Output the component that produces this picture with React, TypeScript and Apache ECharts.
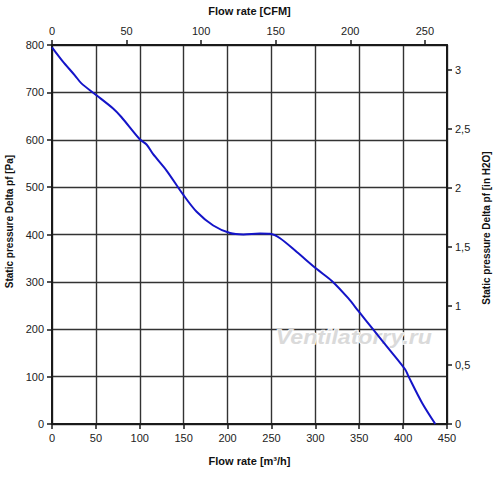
import React, { useEffect, useRef } from "react";
import * as echarts from "echarts";

const flowM3h = [0, 12, 26, 33.5, 50.6, 69.6, 79, 100, 107.7, 115, 130.5, 149.5, 164.8, 183.7, 202.8, 218, 237, 248.4, 259.8, 278.9, 301.7, 318.8, 337.7, 349.2, 366.3, 385.3, 402.4, 406, 421.5, 436.7];
const pressurePa = [795, 766, 736, 719, 694, 666, 648, 601, 590, 570, 535, 484, 448, 419, 403, 400, 402, 401.5, 392, 363, 327, 302, 265, 238, 198.5, 155, 115, 101, 45, 0];

const M3H_PER_CFM = 1.699;
const PA_PER_INH2O = 249.089;
const X_MAX = 450;
const Y_MAX = 800;

const FONT = "'Liberation Sans', Arial, sans-serif";

export default function App() {
  const ref = useRef<HTMLDivElement>(null);
  useEffect(() => {
    if (!ref.current) return;
    const chart = echarts.init(ref.current, undefined, { renderer: "svg" });
    const labelStyle = { fontSize: 11, color: "#222", fontFamily: FONT };
    const nameStyle = { fontSize: 11, color: "#111", fontWeight: "bold" as const, fontFamily: FONT };
    const axisLine = { show: true, onZero: false, lineStyle: { color: "#1a1a1a", width: 2 } };
    const tick = { show: true, length: 5, lineStyle: { color: "#1a1a1a", width: 1.5 } };
    chart.setOption({
      animation: false,
      backgroundColor: "#fff",
      grid: { left: 52, right: 53, top: 45, bottom: 54, containLabel: false, outerBoundsMode: "none" },
      graphic: [
        {
          type: "text",
          left: 275,
          top: 326,
          z: 1,
          scaleX: 1.1,
          silent: true,
          style: {
            text: "Ventilatorry.ru",
            fontSize: 21,
            fontStyle: "italic",
            fontWeight: "bold",
            fontFamily: FONT,
            fill: "#dadada",
            stroke: "#ffffff",
            lineWidth: 1.5,
          },
        },
      ],
      xAxis: [
        {
          type: "value",
          position: "bottom",
          min: 0,
          max: X_MAX,
          interval: 50,
          name: "Flow rate [m³/h]",
          nameLocation: "middle",
          nameGap: 31,
          nameTextStyle: nameStyle,
          axisLine,
          axisTick: tick,
          axisLabel: { ...labelStyle, margin: 8 },
          splitLine: { show: true, lineStyle: { color: "#333", width: 1.4 } },
        },
        {
          type: "value",
          position: "top",
          min: 0,
          max: X_MAX / M3H_PER_CFM,
          interval: 50,
          name: "Flow rate [CFM]",
          nameLocation: "middle",
          nameGap: 29,
          nameTextStyle: nameStyle,
          axisLine,
          axisTick: tick,
          axisLabel: { ...labelStyle, margin: 9, showMaxLabel: false },
          splitLine: { show: false },
        },
      ],
      yAxis: [
        {
          type: "value",
          position: "left",
          min: 0,
          max: Y_MAX,
          interval: 100,
          name: "Static pressure Delta pf [Pa]",
          nameLocation: "middle",
          nameRotate: 90,
          nameGap: 38,
          nameTextStyle: { ...nameStyle, fontSize: 10, padding: [0, 0, 0, 26] },
          axisLine,
          axisTick: tick,
          axisLabel: { ...labelStyle, margin: 8 },
          splitLine: { show: true, lineStyle: { color: "#333", width: 1.4 } },
        },
        {
          type: "value",
          position: "right",
          min: 0,
          max: Y_MAX / PA_PER_INH2O,
          interval: 0.5,
          name: "Static pressure Delta pf [in H2O]",
          nameLocation: "middle",
          nameRotate: 90,
          nameGap: 34,
          nameTextStyle: { ...nameStyle, fontSize: 10, padding: [0, 0, 0, 13] },
          axisLine,
          axisTick: tick,
          axisLabel: {
            ...labelStyle,
            margin: 8,
            showMaxLabel: false,
            formatter: (v: number) => String(v).replace(".", ","),
          },
          splitLine: { show: false },
        },
      ],
      series: [
        {
          type: "line",
          xAxisIndex: 0,
          yAxisIndex: 0,
          data: flowM3h.map((q, i) => [q, pressurePa[i]]),
          showSymbol: false,
          smooth: 0.3,
          z: 3,
          lineStyle: { color: "#1414c8", width: 2 },
        },
      ],
    });
    return () => chart.dispose();
  }, []);
  return (
    <div
      ref={ref}
      style={{ position: "absolute", left: 0, top: 0, width: 500, height: 478 }}
    />
  );
}
